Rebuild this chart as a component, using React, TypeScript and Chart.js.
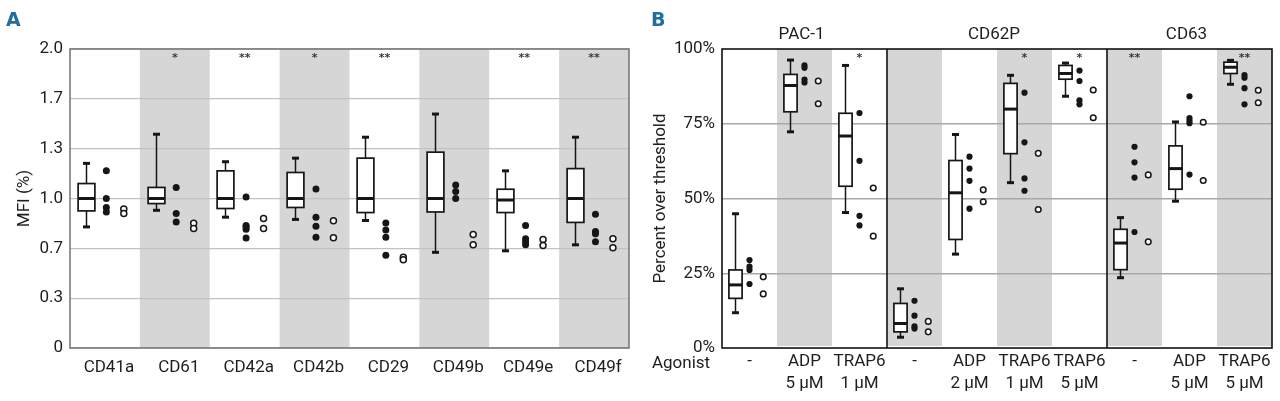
import React, { useEffect, useRef } from "react";
import { Chart, registerables } from "chart.js";

Chart.register(...registerables);

// ---------------- Panel A data ----------------
const markersA = ["CD41a", "CD61", "CD42a", "CD42b", "CD29", "CD49b", "CD49e", "CD49f"];
// [min, q1, median, q3, max] on the MFI axis (0–2 scale)
const boxesA = [
  [0.81, 0.917, 1.0, 1.1, 1.235],
  [0.921, 0.966, 1.0, 1.074, 1.43],
  [0.875, 0.933, 1.0, 1.185, 1.246],
  [0.86, 0.94, 1.0, 1.174, 1.27],
  [0.853, 0.906, 1.0, 1.27, 1.41],
  [0.64, 0.91, 1.0, 1.31, 1.565],
  [0.65, 0.906, 0.99, 1.062, 1.185],
  [0.69, 0.84, 1.0, 1.2, 1.41],
];
const filledA = [
  [1.185, 1.0, 0.94, 0.91],
  [1.074, 0.9, 0.843],
  [1.01, 0.82, 0.81, 0.795, 0.735],
  [1.064, 0.875, 0.814, 0.74],
  [0.836, 0.79, 0.74, 0.62],
  [1.09, 1.046, 1.0],
  [0.82, 0.73, 0.71, 0.69],
  [0.895, 0.78, 0.765, 0.71],
];
const openA = [
  [0.93, 0.9],
  [0.834, 0.8],
  [0.866, 0.8],
  [0.852, 0.738],
  [0.607, 0.59],
  [0.76, 0.69],
  [0.725, 0.685],
  [0.73, 0.67],
];
const sigA = ["", "*", "**", "*", "**", "", "**", "**"];
const yTickValuesA = [0, 1 / 3, 2 / 3, 1, 4 / 3, 5 / 3, 2];
const yTickLabelsA = ["0", "0.3", "0.7", "1.0", "1.3", "1.7", "2.0"];

// ---------------- Panel B data ----------------
const groupsB = ["PAC-1", "CD62P", "CD63"];
const groupSizesB = [3, 4, 3];
const agonistsB = [
  ["-"],
  ["ADP", "5 \u00b5M"],
  ["TRAP6", "1 \u00b5M"],
  ["-"],
  ["ADP", "2 \u00b5M"],
  ["TRAP6", "1 \u00b5M"],
  ["TRAP6", "5 \u00b5M"],
  ["-"],
  ["ADP", "5 \u00b5M"],
  ["TRAP6", "5 \u00b5M"],
];
// [min, q1, median, q3, max] in percent
const boxesB = [
  [11.8, 16.6, 21.1, 26.1, 44.9],
  [72.3, 79.0, 87.8, 91.5, 96.3],
  [45.3, 54.1, 70.9, 78.5, 94.5],
  [3.6, 5.4, 8.2, 14.9, 19.8],
  [31.4, 36.3, 51.9, 62.7, 71.4],
  [55.3, 65.0, 79.9, 88.5, 91.2],
  [84.2, 89.9, 91.8, 94.5, 95.3],
  [23.5, 26.2, 35.1, 39.7, 43.6],
  [49.1, 53.1, 60.0, 67.6, 75.6],
  [88.2, 91.8, 93.9, 95.6, 96.2],
];
const filledB = [
  [29.4, 27.2, 26.1, 21.4],
  [94.5, 93.7, 89.8, 88.8],
  [78.6, 62.6, 44.2, 41.0],
  [15.8, 10.8, 7.2, 6.5],
  [64.0, 60.0, 55.9, 46.6],
  [85.4, 68.8, 56.7, 52.6],
  [92.8, 89.3, 82.8, 81.5],
  [67.3, 62.1, 57.0, 38.8],
  [84.2, 76.9, 76.0, 75.2, 58.0],
  [91.3, 90.4, 86.9, 81.5],
];
const openB = [
  [23.8, 18.1],
  [89.3, 81.7],
  [53.5, 37.4],
  [8.9, 5.4],
  [52.9, 48.9],
  [65.1, 46.3],
  [86.3, 77.0],
  [57.9, 35.5],
  [75.5, 56.0],
  [86.2, 82.0],
];
const sigB = ["", "", "*", "", "", "*", "*", "**", "", "**"];
const yTickValuesB = [0, 25, 50, 75, 100];

// ---------------- styling ----------------
const FONT = "Roboto, 'Liberation Sans', sans-serif";
const FS = 17;
const TEXT = "#1e1e1e";
const BAND = "#d6d6d6";
const INK = "#161616";

type Cfg = {
  key: string;
  n: number;
  boxes: number[][];
  sig: string[];
  boxPos: number;
  boxW: number;
  cap: number;
  bandInset: number;
  frameColor: string;
  separators: number[];
  groups?: { name: string; from: number; to: number }[];
  panelLetter: string;
  letterX: number;
  extraText?: (chart: any) => void;
};

function makeDecor(cfg: Cfg) {
  return {
    id: "decor_" + cfg.key,
    beforeDraw(chart: any) {
      const { ctx, chartArea, scales } = chart;
      const x = scales.x;
      ctx.save();
      ctx.fillStyle = BAND;
      for (let i = 0; i < cfg.n; i++) {
        if (i % 2 === 1) {
          const l = x.getPixelForValue(i);
          const r = x.getPixelForValue(i + 1);
          ctx.fillRect(l, chartArea.top, r - l, chartArea.bottom - chartArea.top - cfg.bandInset);
        }
      }
      ctx.restore();
    },
    beforeDatasetsDraw(chart: any) {
      const { ctx, scales } = chart;
      const x = scales.x;
      const y = scales.y;
      const band = x.getPixelForValue(1) - x.getPixelForValue(0);
      const line = (x1: number, y1: number, x2: number, y2: number) => {
        ctx.beginPath();
        ctx.moveTo(x1, y1);
        ctx.lineTo(x2, y2);
        ctx.stroke();
      };
      ctx.save();
      ctx.strokeStyle = INK;
      cfg.boxes.forEach((b, i) => {
        const [mn, q1, md, q3, mx] = b;
        const cx = Math.round(x.getPixelForValue(i + cfg.boxPos)) + 0.5;
        const w = band * cfg.boxW;
        const yMn = y.getPixelForValue(mn);
        const yQ1 = y.getPixelForValue(q1);
        const yMd = y.getPixelForValue(md);
        const yQ3 = y.getPixelForValue(q3);
        const yMx = y.getPixelForValue(mx);
        ctx.lineWidth = 1.5;
        line(cx, yMx, cx, yQ3);
        line(cx, yQ1, cx, yMn);
        ctx.lineWidth = 3;
        line(cx - cfg.cap / 2, yMx, cx + cfg.cap / 2, yMx);
        line(cx - cfg.cap / 2, yMn, cx + cfg.cap / 2, yMn);
        ctx.fillStyle = "#ffffff";
        ctx.fillRect(cx - w / 2, yQ3, w, yQ1 - yQ3);
        ctx.lineWidth = 1.7;
        ctx.strokeRect(cx - w / 2, yQ3, w, yQ1 - yQ3);
        ctx.lineWidth = 3;
        line(cx - w / 2, yMd, cx + w / 2, yMd);
      });
      ctx.restore();
    },
    afterDraw(chart: any) {
      const { ctx, chartArea, scales } = chart;
      const x = scales.x;
      ctx.save();
      // frame
      ctx.strokeStyle = cfg.frameColor;
      ctx.lineWidth = 1.6;
      ctx.strokeRect(chartArea.left, chartArea.top, chartArea.right - chartArea.left, chartArea.bottom - chartArea.top);
      cfg.separators.forEach((s) => {
        const px = x.getPixelForValue(s);
        ctx.beginPath();
        ctx.moveTo(px, chartArea.top);
        ctx.lineTo(px, chartArea.bottom);
        ctx.stroke();
      });
      // significance marks
      ctx.fillStyle = "#3a3a3a";
      ctx.font = "bold 11px 'DejaVu Sans', sans-serif";
      ctx.textAlign = "center";
      ctx.textBaseline = "middle";
      cfg.sig.forEach((s, i) => {
        if (!s) return;
        ctx.fillText(s, x.getPixelForValue(i + 0.5), chartArea.top + 9);
      });
      // group titles
      if (cfg.groups) {
        ctx.fillStyle = TEXT;
        ctx.font = `${FS}px ${FONT}`;
        ctx.textBaseline = "alphabetic";
        cfg.groups.forEach((g) => {
          const cx = (x.getPixelForValue(g.from) + x.getPixelForValue(g.to)) / 2;
          ctx.fillText(g.name, cx - 3, chartArea.top - 10);
        });
      }
      // panel letter
      ctx.fillStyle = "#1c6ea4";
      ctx.font = "bold 19px 'DejaVu Sans', sans-serif";
      ctx.textAlign = "left";
      ctx.textBaseline = "alphabetic";
      ctx.fillText(cfg.panelLetter, cfg.letterX, 26);
      if (cfg.extraText) cfg.extraText(chart);
      ctx.restore();
    },
  };
}

function pointsFrom(groups: number[][], pos: number) {
  return groups.flatMap((vals, i) => vals.map((v) => ({ x: i + pos, y: v })));
}

export default function App() {
  const refA = useRef<HTMLCanvasElement | null>(null);
  const refB = useRef<HTMLCanvasElement | null>(null);

  useEffect(() => {
    const font = { family: FONT, size: FS, lineHeight: 1.2 };

    // ---------- Chart A ----------
    const chartA = new Chart(refA.current as HTMLCanvasElement, {
      type: "scatter",
      data: {
        datasets: [
          {
            label: "filled",
            data: pointsFrom(filledA, 0.52),
            pointRadius: 3.5,
            pointBackgroundColor: INK,
            pointBorderColor: INK,
            pointBorderWidth: 0,
          },
          {
            label: "open",
            data: pointsFrom(openA, 0.77),
            pointRadius: 3,
            pointBackgroundColor: "#ffffff",
            pointBorderColor: INK,
            pointBorderWidth: 1.5,
          },
        ],
      } as any,
      options: {
        responsive: false,
        animation: false,
        maintainAspectRatio: false,
        events: [],
        layout: { padding: { top: 49, right: 11, left: 0, bottom: 0 } },
        plugins: { legend: { display: false }, tooltip: { enabled: false } },
        scales: {
          x: {
            type: "linear",
            min: 0,
            max: markersA.length,
            grid: { display: false, drawTicks: false },
            border: { display: false },
            afterBuildTicks: (s: any) => {
              s.ticks = markersA.map((_, i) => ({ value: i + 0.5 }));
            },
            afterFit: (s: any) => {
              s.height = 53;
            },
            ticks: {
              autoSkip: false,
              maxRotation: 0,
              padding: 10,
              labelOffset: 4,
              color: TEXT,
              font,
              callback: (_v: any, i: number) => markersA[i],
            },
          },
          y: {
            type: "linear",
            min: 0,
            max: 2,
            afterBuildTicks: (s: any) => {
              s.ticks = yTickValuesA.map((v) => ({ value: v }));
            },
            afterFit: (s: any) => {
              s.width = 70;
            },
            grid: { color: "#c2c2c2", lineWidth: 1.3, drawTicks: false },
            border: { display: false },
            ticks: {
              padding: 7,
              color: TEXT,
              font,
              callback: (_v: any, i: number) => yTickLabelsA[i],
            },
            title: { display: true, text: "MFI (%)", color: TEXT, font, padding: { top: 15, bottom: 0 } },
          },
        },
      } as any,
      plugins: [
        makeDecor({
          key: "A",
          n: markersA.length,
          boxes: boxesA,
          sig: sigA,
          boxPos: 0.225,
          boxW: 0.24,
          cap: 7,
          bandInset: 0,
          frameColor: "#7a7a7a",
          separators: [],
          panelLetter: "A",
          letterX: 6,
        }),
      ],
    });

    // ---------- Chart B ----------
    const groups: { name: string; from: number; to: number }[] = [];
    let acc = 0;
    groupsB.forEach((g, i) => {
      groups.push({ name: g, from: acc, to: acc + groupSizesB[i] });
      acc += groupSizesB[i];
    });
    const separators = groups.slice(0, -1).map((g) => g.to);

    const chartB = new Chart(refB.current as HTMLCanvasElement, {
      type: "scatter",
      data: {
        datasets: [
          {
            label: "filled",
            data: pointsFrom(filledB, 0.5),
            pointRadius: 3.1,
            pointBackgroundColor: INK,
            pointBorderColor: INK,
            pointBorderWidth: 0,
          },
          {
            label: "open",
            data: pointsFrom(openB, 0.75),
            pointRadius: 2.8,
            pointBackgroundColor: "#ffffff",
            pointBorderColor: INK,
            pointBorderWidth: 1.5,
          },
        ],
      } as any,
      options: {
        responsive: false,
        animation: false,
        maintainAspectRatio: false,
        events: [],
        layout: { padding: { top: 49, right: 8, left: 0, bottom: 0 } },
        plugins: { legend: { display: false }, tooltip: { enabled: false } },
        scales: {
          x: {
            type: "linear",
            min: 0,
            max: agonistsB.length,
            grid: { display: false, drawTicks: false },
            border: { display: false },
            afterBuildTicks: (s: any) => {
              s.ticks = agonistsB.map((_, i) => ({ value: i + 0.5 }));
            },
            afterFit: (s: any) => {
              s.height = 53;
            },
            ticks: {
              autoSkip: false,
              maxRotation: 0,
              padding: 3,
              color: TEXT,
              font: { family: FONT, size: FS, lineHeight: 1.3 },
              callback: (_v: any, i: number) => agonistsB[i],
            },
          },
          y: {
            type: "linear",
            min: 0,
            max: 100,
            afterBuildTicks: (s: any) => {
              s.ticks = yTickValuesB.map((v) => ({ value: v }));
            },
            afterFit: (s: any) => {
              s.width = 82;
            },
            grid: {
              drawTicks: false,
              lineWidth: 1.5,
              color: (c: any) =>
                c.tick && (c.tick.value === 0 || c.tick.value === 100) ? "rgba(0,0,0,0)" : "#a8a8a8",
            },
            border: { display: false },
            ticks: {
              padding: 7,
              color: TEXT,
              font,
              callback: (v: any) => `${v}%`,
            },
            title: {
              display: true,
              text: "Percent over threshold",
              color: TEXT,
              font,
              padding: { top: 11, bottom: 0 },
            },
          },
        },
      } as any,
      plugins: [
        makeDecor({
          key: "B",
          n: agonistsB.length,
          boxes: boxesB,
          sig: sigB,
          boxPos: 0.235,
          boxW: 0.24,
          cap: 7,
          bandInset: 2,
          frameColor: "#111111",
          separators,
          groups,
          panelLetter: "B",
          letterX: 11,
          extraText: (chart: any) => {
            const { ctx, chartArea } = chart;
            ctx.fillStyle = TEXT;
            ctx.font = `${FS}px ${FONT}`;
            ctx.textAlign = "center";
            ctx.textBaseline = "alphabetic";
            ctx.fillText("Agonist", chartArea.left - 41, chartArea.bottom + 20);
          },
        }),
      ],
    });

    return () => {
      chartA.destroy();
      chartB.destroy();
    };
  }, []);

  return (
    <div style={{ position: "fixed", left: 0, top: 0, width: 1280, height: 401, background: "#ffffff" }}>
      <canvas ref={refA} width={640} height={401} style={{ position: "absolute", left: 0, top: 0, width: 640, height: 401 }} />
      <canvas ref={refB} width={640} height={401} style={{ position: "absolute", left: 640, top: 0, width: 640, height: 401 }} />
    </div>
  );
}
